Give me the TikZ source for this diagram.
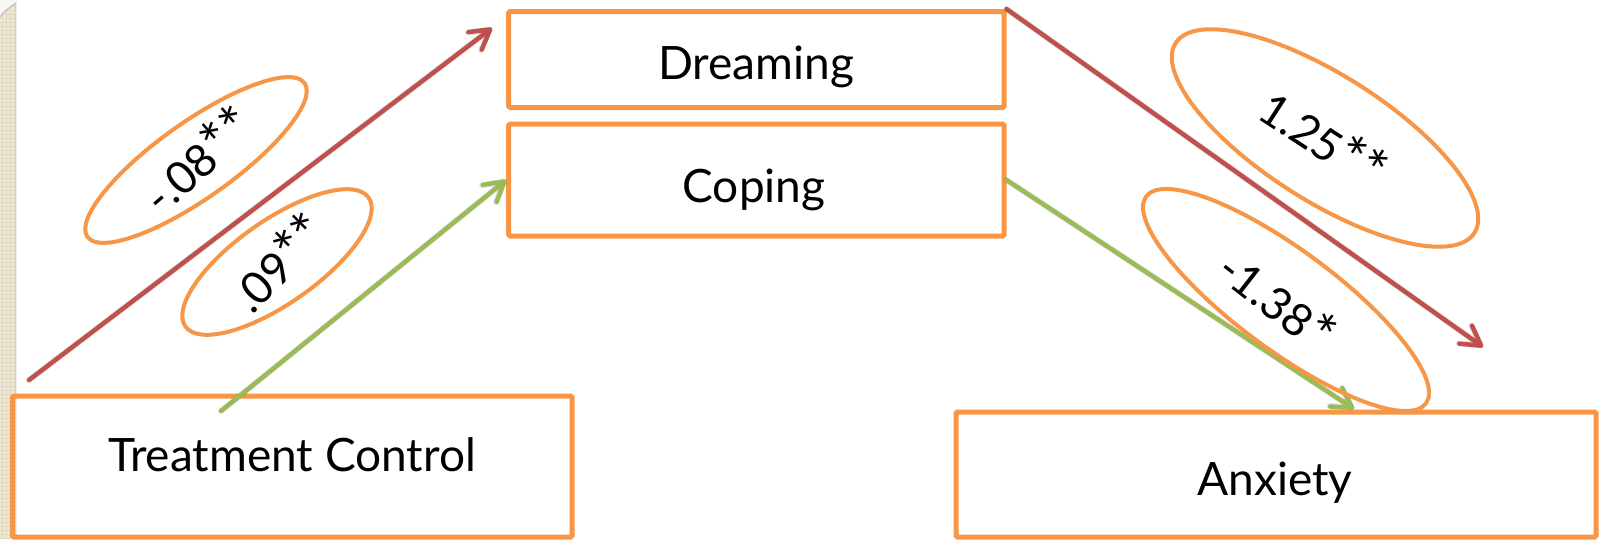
\documentclass[tikz,border=0pt]{standalone}
\usepackage{fontspec}
\setmainfont{Lato}
\usetikzlibrary{arrows.meta,shapes.geometric}

\definecolor{boxorange}{HTML}{F79646}
\definecolor{pathred}{HTML}{C0504D}
\definecolor{pathgreen}{HTML}{9BBB59}
\definecolor{stripbg}{RGB}{237,233,216}
\definecolor{stripline}{RGB}{222,216,192}

% significance stars, set a little larger than the font's own asterisk
\newcommand\sigstars[1]{\raisebox{-2pt}{\fontsize{58}{58}\selectfont #1}}

\begin{document}
\begin{tikzpicture}[x=1pt,y=-1pt,
  varbox/.style={draw=boxorange, line width=5pt, rounded corners=1.5pt, inner sep=0pt},
  vartext/.style={font=\fontsize{46}{52}\selectfont, anchor=base, inner sep=0pt},
  coef/.style={draw=boxorange, line width=4pt, ellipse, inner sep=0pt},
  coeftext/.style={font=\fontsize{45}{50}\selectfont, inner sep=0pt},
  barb/.style={-{Straight Barb[length=19pt,width=22pt,round]}},
  effect/.style={barb, line width=4.5pt, line cap=round},
  redeffect/.style={effect, draw=pathred},
  greeneffect/.style={effect, draw=pathgreen},
  effectshadow/.style={barb, line width=6pt, line cap=round, draw=black, opacity=0.10, shift={(2.5,3)}},
]
\useasboundingbox (0,0) rectangle (1603,539);
\fill[white] (0,0) rectangle (1603,539);

% textured strip on the left edge
\fill[stripbg] (0,0) rectangle (16,539);
\foreach \yy in {2,6,...,538} \draw[stripline, line width=0.5pt] (0,\yy) -- (16,\yy);
\foreach \xx in {2,6,10,14} \draw[stripline, line width=0.5pt] (\xx,0) -- (\xx,539);
\fill[black, opacity=0.07] (15,0) rectangle (17,539);
\fill[white!93!gray] (0,0) -- (16,0) -- (16,3) .. controls (10,7) and (4,11) .. (0,17) -- cycle;
\draw[gray!55, line width=1pt] (16,3) .. controls (10,7) and (4,11) .. (0,17);

% variable boxes
\node[varbox, minimum width=495.3pt, minimum height=96pt]  (dream) at (756.35,59.5) {};
\node[varbox, minimum width=495.3pt, minimum height=112pt] (cope)  at (756.35,180) {};
\node[varbox, minimum width=559.7pt, minimum height=141pt] (treat) at (292.15,466.5) {};
\node[varbox, minimum width=640pt,   minimum height=125pt] (anx)   at (1276,474.5) {};

\node[vartext] (dreamtxt) at (756,79)  {Dreaming};
\node[vartext] (copetxt)  at (754,202) {Coping};
\node[vartext] (treattxt) at (292,471) {Treatment Control};
\node[vartext] (anxtxt)   at (1275,495) {Anxiety};

% free ends of the paths
\coordinate (rstart) at (29,380);
\coordinate (rtipL)  at (492,28);
\coordinate (gstart) at (221,411);
\coordinate (rtipR)  at (1483,347);
\coordinate (gtipR)  at (1354,409);

% drop shadows of the paths
\draw[effectshadow] (rstart) -- (rtipL);
\draw[effectshadow] (gstart) -- (cope.west);
\draw[effectshadow] (dream.north east) -- (rtipR);
\draw[effectshadow] (cope.east) -- (gtipR);

% coping paths
\draw[greeneffect] (gstart) -- (cope.west);
\draw[greeneffect] (cope.east) -- (gtipR);

% coefficient ellipses
\node[coef, minimum width=266pt, minimum height=76pt,  rotate=35.3]  (e1) at (196,160) {};
\node[coef, minimum width=224pt, minimum height=83pt,  rotate=35.1]  (e2) at (277,262) {};
\node[coef, minimum width=354pt, minimum height=126pt, rotate=-32.4] (e3) at (1325,138) {};
\node[coef, minimum width=348pt, minimum height=100pt, rotate=-36.5] (e4) at (1286,300) {};

% dreaming paths
\draw[redeffect] (rstart) -- (rtipL);
\draw[redeffect] (dream.north east) -- (rtipR);

% coefficients
\node[coeftext, rotate=41]  (c1) at (197,159) {-.08\sigstars{**}};
\node[coeftext, rotate=45]  (c2) at (278,262) {.09\sigstars{**}};
\node[coeftext, rotate=-33] (c3) at (1324,138) {1.25\sigstars{**}};
\node[coeftext, rotate=-38] (c4) at (1278,300) {-1.38\sigstars{*}};
\end{tikzpicture}
\end{document}
